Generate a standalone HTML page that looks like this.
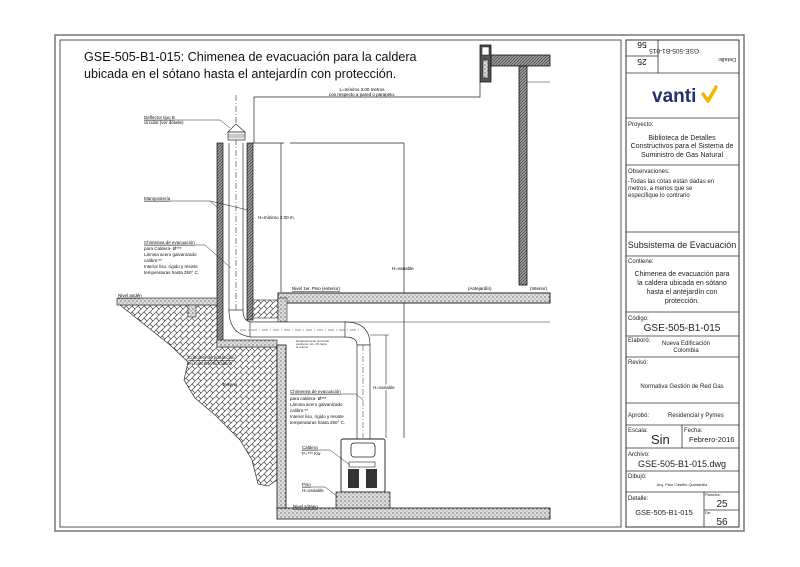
<!DOCTYPE html>
<html><head><meta charset="utf-8"><style>
html,body{margin:0;padding:0;background:#fff;}
svg{display:block;font-family:"Liberation Sans",sans-serif;}
</style></head><body>
<svg width="800" height="567" viewBox="0 0 800 567" xmlns="http://www.w3.org/2000/svg">
<defs>
<pattern id="terr" width="6" height="6" patternUnits="userSpaceOnUse">
<rect width="6" height="6" fill="#fff"/>
<path d="M0 6L6 0M-1 1L1 -1M5 7L7 5" stroke="#444" stroke-width="0.7"/>
<path d="M0 0L3 3" stroke="#444" stroke-width="0.7"/>
</pattern>
<pattern id="conc" width="4" height="4" patternUnits="userSpaceOnUse">
<rect width="4" height="4" fill="#ddd"/>
<circle cx="1" cy="1" r="0.6" fill="#333"/><circle cx="3" cy="3" r="0.5" fill="#555"/>
</pattern>
<pattern id="wall" width="3" height="3" patternUnits="userSpaceOnUse">
<rect width="3" height="3" fill="#999"/>
<path d="M0 3L3 0" stroke="#333" stroke-width="0.6"/>
</pattern>
</defs>

<!-- frames -->
<rect x="55" y="35" width="689" height="496" fill="none" stroke="#777" stroke-width="1.5"/>
<rect x="60" y="40" width="561" height="487" fill="none" stroke="#555" stroke-width="1"/>
<rect x="626" y="40" width="113" height="487" fill="none" stroke="#333" stroke-width="1"/>

<!-- title -->
<text x="84" y="61" font-size="12.6" fill="#111">GSE-505-B1-015: Chimenea de evacuación para la caldera</text>
<text x="84" y="78" font-size="12.6" fill="#111">ubicada en el sótano hasta el antejardín con protección.</text>

<!-- right building -->
<rect x="480" y="45" width="11" height="37" fill="#555" stroke="#111" stroke-width="0.8"/>
<rect x="482" y="47" width="7" height="8" fill="#fff" stroke="#111" stroke-width="0.5"/>
<rect x="483" y="60" width="5" height="18" fill="url(#conc)" stroke="#111" stroke-width="0.5"/>
<rect x="491" y="55" width="59" height="11" fill="url(#wall)" stroke="#111" stroke-width="0.8"/>
<rect x="519" y="66" width="8" height="219" fill="url(#wall)" stroke="#111" stroke-width="0.8"/>
<line x1="527" y1="82" x2="550" y2="82" stroke="#333" stroke-width="0.6"/>

<!-- L dimension -->
<polyline points="254,143 254,97 480,97 480,82" fill="none" stroke="#222" stroke-width="0.7"/>
<text x="362" y="91" font-size="4.5" text-anchor="middle">L=mínimo 3.00 metros</text>
<text x="362" y="96" font-size="4.5" text-anchor="middle">con respecto a pared o parapeto.</text>

<!-- H dims upper -->
<line x1="253" y1="143" x2="284" y2="143" stroke="#222" stroke-width="0.7"/>
<line x1="281" y1="143" x2="281" y2="292" stroke="#222" stroke-width="0.7"/>
<text x="258" y="219" font-size="4.5">H=mínimo 2.00 m.</text>
<line x1="290" y1="143" x2="404" y2="143" stroke="#222" stroke-width="0.7"/>
<line x1="404" y1="143" x2="404" y2="438" stroke="#222" stroke-width="0.7"/>
<text x="392" y="270" font-size="4.5">H=variable</text>

<!-- chimney walls -->
<rect x="217" y="143" width="6" height="200" fill="url(#wall)" stroke="#111" stroke-width="0.7"/>
<rect x="247" y="143" width="6" height="177" fill="url(#wall)" stroke="#111" stroke-width="0.7"/>
<line x1="229" y1="143" x2="229" y2="312" stroke="#333" stroke-width="0.7"/>
<line x1="243" y1="143" x2="243" y2="312" stroke="#333" stroke-width="0.7"/>
<line x1="236" y1="95" x2="236" y2="332" stroke="#333" stroke-width="0.6" stroke-dasharray="6,2,1,2"/>
<!-- deflector -->
<path d="M228 132L236 124L245 132Z" fill="#fff" stroke="#333" stroke-width="0.7"/>
<rect x="228" y="132" width="17" height="8" fill="#eee" stroke="#333" stroke-width="0.7"/>
<line x1="228" y1="135" x2="245" y2="135" stroke="#555" stroke-width="0.5"/>
<line x1="228" y1="137" x2="245" y2="137" stroke="#555" stroke-width="0.5"/>

<!-- terrain -->
<path d="M120 305 L217 305 L217 347 L277 347 L277 480 L268 486 L258 484 L252 460 L240 440 L215 415 L195 398 L184 380 L188 362 L170 345 L145 325 Z" fill="url(#terr)" stroke="#333" stroke-width="0.7"/>
<rect x="253" y="300" width="25" height="18" fill="url(#terr)" stroke="#333" stroke-width="0.6"/>
<rect x="117" y="298" width="100" height="7" fill="url(#conc)" stroke="#333" stroke-width="0.7"/>
<rect x="188" y="305" width="8" height="12" fill="url(#conc)" stroke="#333" stroke-width="0.6"/>
<rect x="217" y="340" width="60" height="7" fill="url(#conc)" stroke="#333" stroke-width="0.7"/>
<!-- top slab -->
<rect x="278" y="293" width="272" height="10" fill="url(#conc)" stroke="#111" stroke-width="0.9"/>
<rect x="278" y="298" width="9" height="24" fill="url(#conc)" stroke="#333" stroke-width="0.6"/>
<line x1="250" y1="322" x2="550" y2="322" stroke="#333" stroke-width="0.6"/>
<!-- basement wall & floor -->
<rect x="277" y="345" width="9" height="165" fill="url(#conc)" stroke="#111" stroke-width="0.8"/>
<rect x="277" y="508" width="273" height="11" fill="url(#conc)" stroke="#111" stroke-width="0.8"/>

<text x="118" y="297" font-size="4.5" text-decoration="underline">Nivel andén</text>
<text x="292" y="290" font-size="4.5" text-decoration="underline">Nivel 1er. Piso (exterior)</text>
<text x="468" y="290" font-size="4.5">(Antejardín)</text>
<text x="530" y="290" font-size="4.5">(Interior)</text>
<text x="293" y="508" font-size="4.5" text-decoration="underline">Nivel sótano</text>

<!-- horizontal duct & elbows -->
<path d="M229 310 Q229 335 252 337 L252 322 Q243 322 243 310 Z" fill="#fff" stroke="#333" stroke-width="0.7"/>
<rect x="250" y="322" width="96" height="15" fill="#fff" stroke="#333" stroke-width="0.7"/>
<path d="M345 322 Q370 322 370 345 L357 345 Q357 337 345 337 Z" fill="#fff" stroke="#333" stroke-width="0.7"/>
<line x1="240" y1="330" x2="360" y2="330" stroke="#333" stroke-width="0.5" stroke-dasharray="6,2,1,2"/>
<rect x="357" y="345" width="13" height="94" fill="#fff" stroke="#333" stroke-width="0.7"/>
<line x1="363" y1="345" x2="363" y2="438" stroke="#333" stroke-width="0.5" stroke-dasharray="6,2,1,2"/>
<line x1="370" y1="335" x2="389" y2="335" stroke="#222" stroke-width="0.6"/>
<line x1="386" y1="335" x2="386" y2="438" stroke="#222" stroke-width="0.6"/>
<text x="373" y="389" font-size="4.5" fill="#111" style="paint-order:stroke" stroke="#fff" stroke-width="2">H=variable</text>

<!-- boiler -->
<rect x="341" y="439" width="44" height="53" rx="2" fill="#fff" stroke="#222" stroke-width="0.9"/>
<rect x="351" y="443" width="24" height="14" rx="3" fill="#fff" stroke="#222" stroke-width="0.8"/>
<rect x="349" y="462" width="26" height="5" fill="#fff" stroke="#222" stroke-width="0.6"/>
<rect x="348" y="469" width="11" height="19" fill="#333"/>
<rect x="366" y="469" width="11" height="19" fill="#333"/>
<rect x="336" y="492" width="54" height="16" fill="url(#conc)" stroke="#222" stroke-width="0.7"/>

<!-- labels and leaders -->
<g font-size="4.5" fill="#111">
<text x="144" y="119" text-decoration="underline">Deflector tipo B</text>
<text x="144" y="124">circular (ver detalle)</text>
<text x="144" y="200" text-decoration="underline">Mampostería</text>
<text x="144" y="244" text-decoration="underline">Chimenea de evacuación</text>
<text x="144" y="250">para Caldera- Ø***</text>
<text x="144" y="256">Lámina acero galvanizado</text>
<text x="144" y="262">calibre:**</text>
<text x="144" y="268">Interior liso, rígido y resiste</text>
<text x="144" y="274">temperaturas hasta 250° C.</text>
<text x="188" y="359" text-decoration="underline">Concreto de protección</text>
<text x="188" y="365">en concreto hidráulico</text>
<text x="222" y="386">Terreno</text>
<text x="290" y="393" text-decoration="underline">Chimenea de evacuación</text>
<text x="290" y="400">para caldera- Ø***</text>
<text x="290" y="406">Lámina acero galvanizado</text>
<text x="290" y="412">calibre:**</text>
<text x="290" y="418">Interior liso, rígido y resiste</text>
<text x="290" y="424">temperaturas hasta 250° C.</text>
<text x="302" y="449" text-decoration="underline">Caldera</text>
<text x="302" y="455">P=*** Kw</text>
<text x="302" y="486" text-decoration="underline">Piso</text>
<text x="302" y="492">H=variable</text>
</g>
<g font-size="2.8" fill="#333">
<text x="296" y="342">Desplazamiento horizontal</text>
<text x="296" y="345">pendiente mín. 2% hacia</text>
<text x="296" y="348">el exterior</text>
</g>
<g stroke="#222" stroke-width="0.5" fill="none">
<polyline points="144,120 220,120 230,128"/>
<polyline points="144,201 210,201 218,208"/>
<line x1="210" y1="201" x2="248" y2="210"/>
<polyline points="144,245 205,245 231,268"/>
<polyline points="290,394 356,394 363,400"/>
<polyline points="302,450 330,450 350,465"/>
<polyline points="302,487 325,487 338,497"/>
</g>

<!-- title block -->
<g stroke="#333" stroke-width="0.8" fill="none">
<line x1="626" y1="73" x2="739" y2="73"/>
<line x1="658" y1="40" x2="658" y2="73"/>
<line x1="626" y1="56" x2="658" y2="56"/>
<line x1="626" y1="118" x2="739" y2="118"/>
<line x1="626" y1="165" x2="739" y2="165"/>
<line x1="626" y1="232" x2="739" y2="232"/>
<line x1="626" y1="256" x2="739" y2="256"/>
<line x1="626" y1="312" x2="739" y2="312"/>
<line x1="626" y1="336" x2="739" y2="336"/>
<line x1="626" y1="357" x2="739" y2="357"/>
<line x1="626" y1="403" x2="739" y2="403"/>
<line x1="626" y1="425" x2="739" y2="425"/>
<line x1="682" y1="425" x2="682" y2="448"/>
<line x1="626" y1="448" x2="739" y2="448"/>
<line x1="626" y1="471" x2="739" y2="471"/>
<line x1="626" y1="492" x2="739" y2="492"/>
<line x1="704" y1="492" x2="704" y2="527"/>
<line x1="704" y1="510" x2="739" y2="510"/>
</g>
<g transform="rotate(180 682 56)" font-size="5.5" fill="#222">
<text x="628" y="54">Detalle:</text>
<text x="665" y="63" font-size="6.5">GSE-505-B1-015</text>
</g>
<text x="642" y="48" font-size="8.5" text-anchor="middle" transform="rotate(180 642 45)">56</text>
<text x="642" y="65" font-size="8.5" text-anchor="middle" transform="rotate(180 642 62)">25</text>

<text x="652" y="102" font-size="19" font-weight="bold" fill="#25306a">vanti</text>
<path d="M703 94 L708 101 L716 87" fill="none" stroke="#f5b400" stroke-width="3.5" stroke-linejoin="round" stroke-linecap="round"/>

<g font-size="6" fill="#222">
<text x="628" y="126">Proyecto:</text>
<text x="682" y="140" text-anchor="middle" font-size="7">Biblioteca de Detalles</text>
<text x="682" y="148" text-anchor="middle" font-size="7">Constructivos para el Sistema de</text>
<text x="682" y="157" text-anchor="middle" font-size="7">Suministro de Gas Natural</text>
<text x="628" y="173">Observaciones:</text>
<text x="628" y="183">-Todas las cotas están dadas en</text>
<text x="628" y="190">metros, a menos que se</text>
<text x="628" y="197">especifique lo contrario</text>
<text x="682" y="248" text-anchor="middle" font-size="9">Subsistema de Evacuación</text>
<text x="628" y="263">Contiene:</text>
<text x="682" y="276" text-anchor="middle" font-size="7">Chimenea de evacuación para</text>
<text x="682" y="285" text-anchor="middle" font-size="7">la caldera ubicada en sótano</text>
<text x="682" y="294" text-anchor="middle" font-size="7">hasta el antejardín con</text>
<text x="682" y="303" text-anchor="middle" font-size="7">protección.</text>
<text x="628" y="320">Código:</text>
<text x="682" y="331" text-anchor="middle" font-size="10">GSE-505-B1-015</text>
<text x="628" y="342">Elaboró:</text>
<text x="686" y="345" text-anchor="middle">Nueva Edificación</text>
<text x="686" y="352" text-anchor="middle">Colombia</text>
<text x="628" y="364">Revisó:</text>
<text x="682" y="388" text-anchor="middle">Normativa Gestión de Red Gas</text>
<text x="628" y="417">Aprobó:</text>
<text x="668" y="417">Residencial y Pymes</text>
<text x="628" y="432">Escala:</text>
<text x="651" y="444" font-size="13">Sin</text>
<text x="684" y="432">Fecha:</text>
<text x="689" y="442" font-size="7.5">Febrero-2016</text>
<text x="628" y="456">Archivo:</text>
<text x="682" y="467" text-anchor="middle" font-size="9">GSE-505-B1-015.dwg</text>
<text x="628" y="478">Dibujó:</text>
<text x="682" y="486" text-anchor="middle" font-size="4">Arq. Pilar Castillo Quintanilla</text>
<text x="628" y="500">Detalle:</text>
<text x="664" y="515" text-anchor="middle" font-size="7.5">GSE-505-B1-015</text>
<text x="705" y="496" font-size="4">Plancha:</text>
<text x="722" y="507" text-anchor="middle" font-size="10">25</text>
<text x="705" y="514" font-size="4">De:</text>
<text x="722" y="525" text-anchor="middle" font-size="10">56</text>
</g>
</svg>
</body></html>
